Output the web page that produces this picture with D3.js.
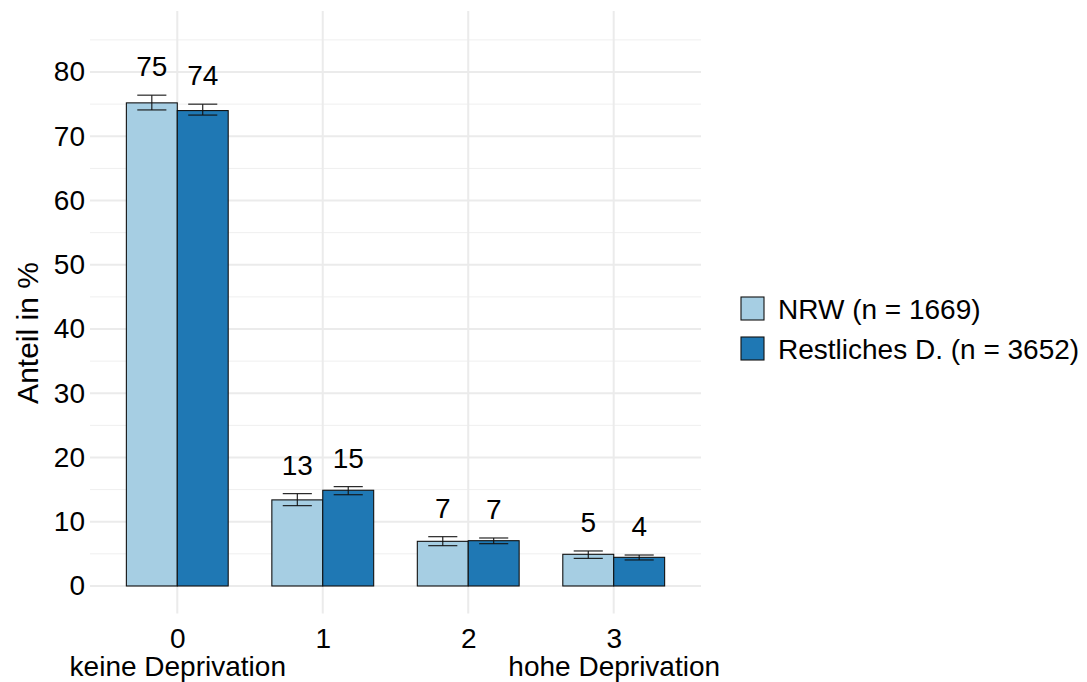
<!DOCTYPE html>
<html>
<head>
<meta charset="utf-8">
<script src="https://cdn.jsdelivr.net/npm/d3@7"></script>
<style>
  body { margin: 0; background: #fff; }
  text { font-family: "Liberation Sans", Arial, Helvetica, sans-serif; fill: #000; }
</style>
</head>
<body>
<svg id="chart"></svg>
<script>
// Anteil in % nach Deprivationsstufe, NRW vs. restliches Deutschland

let categories = ['0', '1', '2', '3'];
let subLabels = ['keine Deprivation', '', '', 'hohe Deprivation'];
let seriesNames = ['NRW (n = 1669)', 'Restliches D. (n = 3652)'];
let seriesColors = ['#a6cee3', '#1f78b4'];

let nrwValues = [75.2, 13.4, 6.95, 4.93];
let nrwLow = [74.1, 12.5, 6.27, 4.3];
let nrwHigh = [76.4, 14.37, 7.67, 5.45];

let restValues = [74.0, 14.9, 7.05, 4.46];
let restLow = [73.3, 14.2, 6.58, 4.05];
let restHigh = [75.0, 15.46, 7.47, 4.82];

let yTicks = [0, 10, 20, 30, 40, 50, 60, 70, 80];
let yMinor = [5, 15, 25, 35, 45, 55, 65, 75, 85];

let width = 1087;
let height = 682;
let panel = { left: 90, right: 701, top: 11, bottom: 613.6 };
let fontSize = 28;

// rows for drawing
let rows = [];
categories.forEach((c, i) => {
  rows.push({ cat: c, s: 0, value: nrwValues[i], low: nrwLow[i], high: nrwHigh[i] });
  rows.push({ cat: c, s: 1, value: restValues[i], low: restLow[i], high: restHigh[i] });
});

let svg = d3.select('#chart')
  .attr('width', width)
  .attr('height', height);

let xScale = d3.scalePoint()
  .domain(categories)
  .range([panel.left, panel.right])
  .padding(0.6);

let step = xScale.step();

let xSub = d3.scaleBand()
  .domain([0, 1])
  .range([-0.35 * step, 0.35 * step]);

let yScale = d3.scaleLinear()
  .domain([-4.3, 89.5])
  .range([panel.bottom, panel.top]);

// grid
let grid = svg.append('g');
grid.selectAll('.minor')
  .data(yMinor)
  .enter()
  .append('line')
  .attr('x1', panel.left)
  .attr('x2', panel.right)
  .attr('y1', d => yScale(d))
  .attr('y2', d => yScale(d))
  .attr('stroke', '#efefef')
  .attr('stroke-width', 1);

grid.selectAll('.major')
  .data(yTicks)
  .enter()
  .append('line')
  .attr('x1', panel.left)
  .attr('x2', panel.right)
  .attr('y1', d => yScale(d))
  .attr('y2', d => yScale(d))
  .attr('stroke', '#ebebeb')
  .attr('stroke-width', 2);

grid.selectAll('.vmajor')
  .data(categories)
  .enter()
  .append('line')
  .attr('x1', d => xScale(d))
  .attr('x2', d => xScale(d))
  .attr('y1', panel.top)
  .attr('y2', panel.bottom)
  .attr('stroke', '#ebebeb')
  .attr('stroke-width', 2);

// bars
svg.append('g')
  .selectAll('rect')
  .data(rows)
  .enter()
  .append('rect')
  .attr('x', d => xScale(d.cat) + xSub(d.s))
  .attr('width', xSub.bandwidth())
  .attr('y', d => yScale(d.value))
  .attr('height', d => yScale(0) - yScale(d.value))
  .attr('fill', d => seriesColors[d.s])
  .attr('stroke', '#111')
  .attr('stroke-width', 1.1);

// error bars
let ebHalf = 0.1 * step;
let eb = svg.append('g')
  .selectAll('g')
  .data(rows)
  .enter()
  .append('g')
  .attr('stroke', '#111')
  .attr('stroke-width', 1.1);

eb.append('line')
  .attr('x1', d => xScale(d.cat) + xSub(d.s) + xSub.bandwidth() / 2)
  .attr('x2', d => xScale(d.cat) + xSub(d.s) + xSub.bandwidth() / 2)
  .attr('y1', d => yScale(d.low))
  .attr('y2', d => yScale(d.high));
eb.append('line')
  .attr('x1', d => xScale(d.cat) + xSub(d.s) + xSub.bandwidth() / 2 - ebHalf)
  .attr('x2', d => xScale(d.cat) + xSub(d.s) + xSub.bandwidth() / 2 + ebHalf)
  .attr('y1', d => yScale(d.low))
  .attr('y2', d => yScale(d.low));
eb.append('line')
  .attr('x1', d => xScale(d.cat) + xSub(d.s) + xSub.bandwidth() / 2 - ebHalf)
  .attr('x2', d => xScale(d.cat) + xSub(d.s) + xSub.bandwidth() / 2 + ebHalf)
  .attr('y1', d => yScale(d.high))
  .attr('y2', d => yScale(d.high));

// value labels
svg.append('g')
  .selectAll('text')
  .data(rows)
  .enter()
  .append('text')
  .attr('x', d => xScale(d.cat) + xSub(d.s) + xSub.bandwidth() / 2)
  .attr('y', d => yScale(d.high + 4.5))
  .attr('dy', '0.36em')
  .style('text-anchor', 'middle')
  .style('font-size', fontSize + 'px')
  .text(d => Math.round(d.value));

// y axis
let yAxis = d3.axisLeft(yScale)
  .tickValues(yTicks)
  .tickSize(0)
  .tickPadding(5);

svg.append('g')
  .attr('transform', 'translate(' + panel.left + ',0)')
  .call(yAxis)
  .call(g => g.select('.domain').remove())
  .selectAll('text')
  .style('font-size', fontSize + 'px')
  .attr('fill', '#000');

// x axis
let xAxis = d3.axisBottom(xScale)
  .tickSize(0)
  .tickPadding(14.6);

let xg = svg.append('g')
  .attr('transform', 'translate(0,' + panel.bottom + ')')
  .call(xAxis)
  .call(g => g.select('.domain').remove());

xg.selectAll('text')
  .style('font-size', fontSize + 'px')
  .attr('fill', '#000');

xg.selectAll('.tick')
  .append('text')
  .attr('y', 42.6)
  .attr('dy', '0.71em')
  .attr('fill', '#000')
  .style('font-size', fontSize + 'px')
  .text((d, i) => subLabels[i]);

// y axis title
svg.append('text')
  .attr('transform', 'rotate(-90)')
  .attr('x', -333)
  .attr('y', 27)
  .attr('dy', '0.36em')
  .style('text-anchor', 'middle')
  .style('font-size', '30px')
  .text('Anteil in %');

// legend
let legend = svg.append('g')
  .attr('transform', 'translate(741,297)')
  .selectAll('g')
  .data(seriesNames)
  .enter()
  .append('g')
  .attr('transform', (d, i) => 'translate(0,' + i * 40 + ')');

legend.append('rect')
  .attr('width', 23)
  .attr('height', 23)
  .attr('fill', (d, i) => seriesColors[i])
  .attr('stroke', '#111')
  .attr('stroke-width', 1.1);

legend.append('text')
  .attr('x', 37)
  .attr('y', 11.5)
  .attr('dy', '0.36em')
  .style('font-size', fontSize + 'px')
  .text(d => d);
</script>
</body>
</html>
